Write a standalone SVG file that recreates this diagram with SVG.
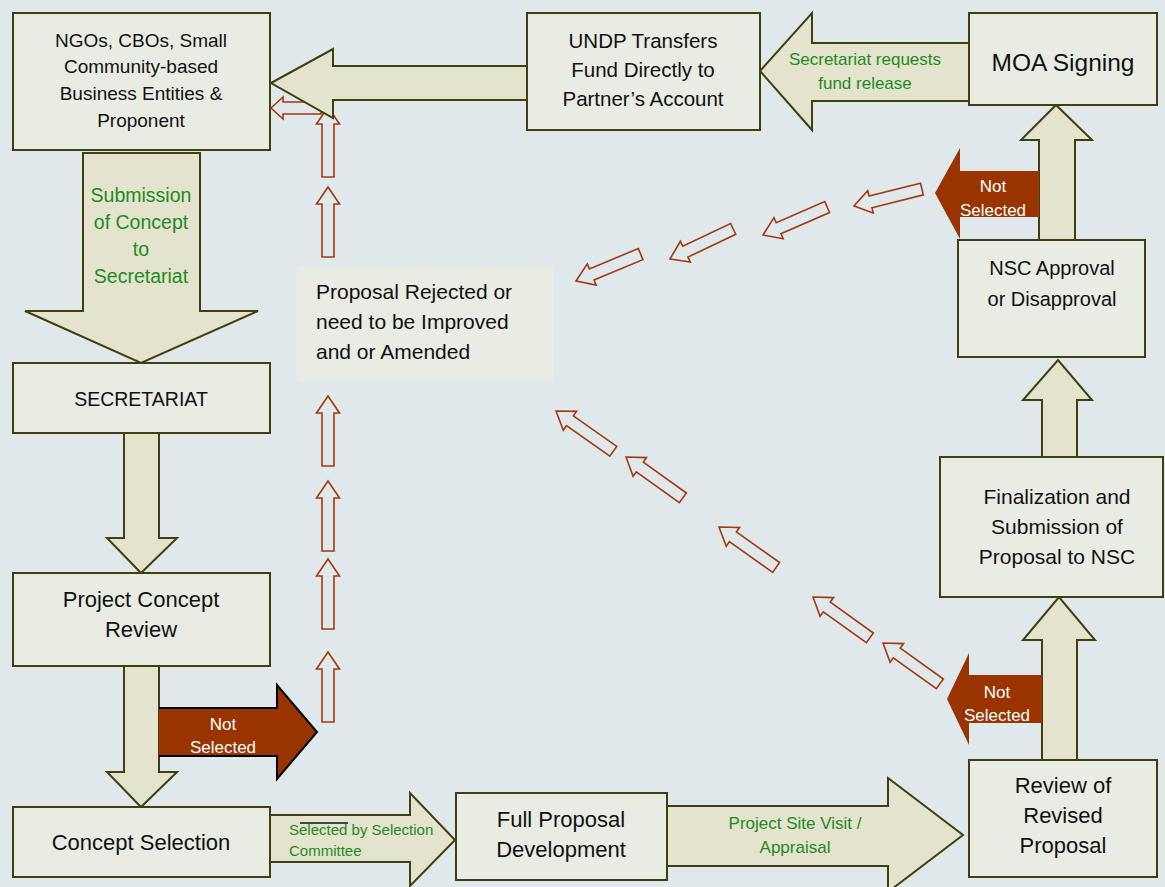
<svg xmlns="http://www.w3.org/2000/svg" xmlns:xlink="http://www.w3.org/1999/xlink" width="1165" height="887" viewBox="0 0 1165 887">
<style>
.bg{fill:#dfe9eb}
.box{fill:#e9ece3;stroke:#40400f;stroke-width:2}
.soft{fill:#e9ece2}
.fat{fill:#e4e3cd;stroke:#40400f;stroke-width:2;stroke-linejoin:miter}
.red{fill:#993300}
.redk{fill:#993300;stroke:#000;stroke-width:2}
.oa{fill:#dfe9eb;stroke:#a3390d;stroke-width:1.6;stroke-linejoin:miter}
text{font-family:"Liberation Sans",Arial,sans-serif}
.t{fill:#111;text-anchor:middle}
.g{fill:#1f8a1f;text-anchor:middle}
.w{fill:#fff;text-anchor:middle;font-size:17px}
</style>
<defs>
<path id="oa" d="M0,0 L-17,-11.5 L-17,-6 L-70,-6 L-70,6 L-17,6 L-17,11.5 Z"/>
</defs>
<rect class="bg" x="0" y="0" width="1165" height="887"/>

<g id="connectors">
<!-- outline arrows (rejected path) -->
<path class="oa" d="M271,108 L283,97 L283,102 L321,102 L321,114 L283,114 L283,119 Z"/>
<use xlink:href="#oa" class="oa" transform="translate(328,107) rotate(-90)"/>
<use xlink:href="#oa" class="oa" transform="translate(328,187) rotate(-90)"/>
<use xlink:href="#oa" class="oa" transform="translate(328,396) rotate(-90)"/>
<use xlink:href="#oa" class="oa" transform="translate(328,481) rotate(-90)"/>
<use xlink:href="#oa" class="oa" transform="translate(328,559) rotate(-90)"/>
<use xlink:href="#oa" class="oa" transform="translate(328,652) rotate(-90)"/>
<use xlink:href="#oa" class="oa" transform="translate(854,206) rotate(166)"/>
<use xlink:href="#oa" class="oa" transform="translate(763,235) rotate(156.4)"/>
<use xlink:href="#oa" class="oa" transform="translate(670,259) rotate(154.5)"/>
<use xlink:href="#oa" class="oa" transform="translate(576,281) rotate(157.4)"/>
<use xlink:href="#oa" class="oa" transform="translate(556,411) rotate(-144.9)"/>
<use xlink:href="#oa" class="oa" transform="translate(626,457) rotate(-144.3)"/>
<use xlink:href="#oa" class="oa" transform="translate(719,527) rotate(-144.7)"/>
<use xlink:href="#oa" class="oa" transform="translate(813,597) rotate(-144.3)"/>
<use xlink:href="#oa" class="oa" transform="translate(883,643) rotate(-144.3)"/>

<!-- MOA -> UNDP -->
<polygon class="fat" points="760,71 812,13 812,43 969,43 969,101 812,101 812,130"/>
<text class="g" font-size="17" x="865" y="65">Secretariat requests</text>
<text class="g" font-size="17" x="865" y="89">fund release</text>
<!-- UNDP -> NGOs -->
<polygon class="fat" points="271,83 333,49 333,66 527,66 527,100 333,100 333,118"/>
<!-- NGOs -> Secretariat -->
<polygon class="fat" points="83,153 200,153 200,311 258,311 141,363 25,311 83,311"/>
<text class="g" font-size="19.5" x="141" y="202">Submission</text>
<text class="g" font-size="19.5" x="141" y="229">of Concept</text>
<text class="g" font-size="19.5" x="141" y="256">to</text>
<text class="g" font-size="19.5" x="141" y="283">Secretariat</text>
<!-- Secretariat -> PCR -->
<polygon class="fat" points="124,433 159,433 159,538 177,538 141,573 107,538 124,538"/>
<!-- PCR -> Concept Selection -->
<polygon class="fat" points="124,666 159,666 159,772 177,772 141,807 107,772 124,772"/>
<!-- Not selected (PCR) -->
<path class="redk" d="M159,708 H277 V685 L317,732 L277,779 V756 H159"/>
<text class="w" x="223" y="730">Not</text>
<text class="w" x="223" y="753">Selected</text>
<!-- Concept Selection -> Full Proposal -->
<path class="fat" d="M270,815 H410 V793 L455,840 L410,886 V862 H270"/>
<line x1="300" y1="823" x2="348" y2="823" stroke="#111" stroke-width="1.3"/>
<text fill="#1f8a1f" font-size="15" x="289" y="835">Selected by Selection</text>
<text fill="#1f8a1f" font-size="15" x="289" y="856">Committee</text>
<!-- Full Proposal -> Review -->
<path class="fat" d="M667,806 H888 V778 L963,835 L888,892 V866 H667"/>
<text class="g" font-size="17" x="795" y="829">Project Site Visit /</text>
<text class="g" font-size="17" x="795" y="853">Appraisal</text>
<!-- Review -> Finalization -->
<polygon class="fat" points="1042,760 1042,640 1023,640 1059,597 1095,640 1077,640 1077,760"/>
<!-- Not selected (Review) -->
<polygon class="red" points="1042,675 969,675 969,653 947,699 969,745 969,723 1042,723"/>
<text class="w" x="997" y="698">Not</text>
<text class="w" x="997" y="721">Selected</text>
<!-- Finalization -> NSC -->
<polygon class="fat" points="1042,457 1042,400 1023,400 1058,360 1092,400 1077,400 1077,457"/>
<!-- NSC -> MOA -->
<polygon class="fat" points="1039,240 1039,140 1021,140 1056,105 1092,140 1075,140 1075,240"/>
<!-- Not selected (NSC) -->
<polygon class="red" points="1039,171 960,171 960,148 935,193 960,239 960,217 1039,217"/>
<text class="w" x="993" y="192">Not</text>
<text class="w" x="993" y="216">Selected</text>
</g>

<g id="node-ngos">
<rect class="box" x="13" y="13" width="257" height="137"/>
<text class="t" font-size="19" x="141" y="47">NGOs, CBOs, Small</text>
<text class="t" font-size="19" x="141" y="73">Community-based</text>
<text class="t" font-size="19" x="141" y="100">Business Entities &amp;</text>
<text class="t" font-size="19" x="141" y="127">Proponent</text>
</g>
<g id="node-undp">
<rect class="box" x="527" y="13" width="233" height="117"/>
<text class="t" font-size="20.5" x="643" y="48">UNDP Transfers</text>
<text class="t" font-size="20.5" x="643" y="77">Fund Directly to</text>
<text class="t" font-size="20.5" x="643" y="106">Partner’s Account</text>
</g>
<g id="node-moa">
<rect class="box" x="969" y="13" width="188" height="92"/>
<text class="t" font-size="24.5" x="1063" y="71">MOA Signing</text>
</g>
<g id="node-rejected">
<rect class="soft" x="297" y="266" width="256" height="116"/>
<text fill="#111" font-size="21" x="316" y="299">Proposal Rejected or</text>
<text fill="#111" font-size="21" x="316" y="329">need to be Improved</text>
<text fill="#111" font-size="21" x="316" y="359">and or Amended</text>
</g>
<g id="node-secretariat">
<rect class="box" x="13" y="363" width="257" height="70"/>
<text class="t" font-size="19.5" x="141" y="406">SECRETARIAT</text>
</g>
<g id="node-pcr">
<rect class="box" x="13" y="573" width="257" height="93"/>
<text class="t" font-size="22" x="141" y="607">Project Concept</text>
<text class="t" font-size="22" x="141" y="637">Review</text>
</g>
<g id="node-cs">
<rect class="box" x="13" y="807" width="257" height="70"/>
<text class="t" font-size="22" x="141" y="850">Concept Selection</text>
</g>
<g id="node-fpd">
<rect class="box" x="456" y="793" width="211" height="87"/>
<text class="t" font-size="22" x="561" y="827">Full Proposal</text>
<text class="t" font-size="22" x="561" y="857">Development</text>
</g>
<g id="node-review">
<rect class="box" x="969" y="760" width="188" height="117"/>
<text class="t" font-size="22" x="1063" y="793">Review of</text>
<text class="t" font-size="22" x="1063" y="823">Revised</text>
<text class="t" font-size="22" x="1063" y="853">Proposal</text>
</g>
<g id="node-final">
<rect class="box" x="940" y="457" width="223" height="140"/>
<text class="t" font-size="21" x="1057" y="504">Finalization and</text>
<text class="t" font-size="21" x="1057" y="534">Submission of</text>
<text class="t" font-size="21" x="1057" y="564">Proposal to NSC</text>
</g>
<g id="node-nsc">
<rect class="box" x="958" y="240" width="187" height="117"/>
<text class="t" font-size="20" x="1052" y="275">NSC Approval</text>
<text class="t" font-size="20" x="1052" y="306">or Disapproval</text>
</g>
</svg>
